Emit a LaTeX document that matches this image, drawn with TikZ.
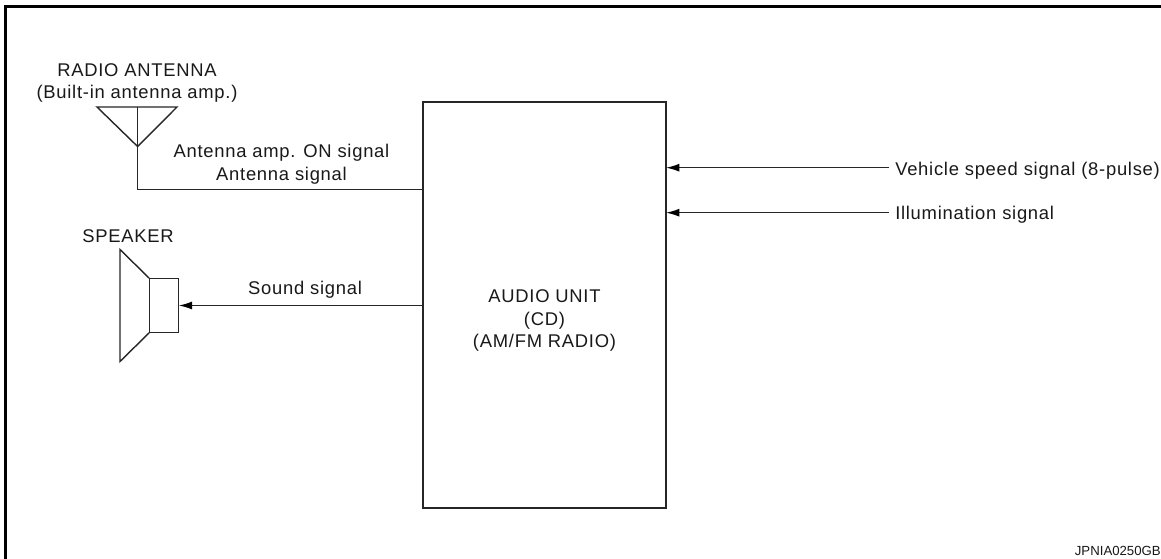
\documentclass[tikz,border=0pt]{standalone}
\usepackage{fontspec}
\setmainfont{Liberation Sans}[LetterSpace=4]
\newfontfamily\plainfont{Liberation Sans}
\usetikzlibrary{arrows.meta,calc}
\tikzset{
  ln/.style={draw=black!85,line width=1.05pt,outer sep=0pt},
  sig/.style={ln,-{Latex[length=10pt,width=6pt,black]}},
  lbl/.style={inner sep=0pt,font=\fontsize{13.8pt}{17pt}\selectfont,text=black!90,align=center},
  lblr/.style={lbl,anchor=west,align=left},
}
\begin{document}
\begin{tikzpicture}[x=0.75pt,y=-0.75pt]
\useasboundingbox (0,0) rectangle (1161,559);
\fill[white] (0,0) rectangle (1161,559);
% frame
\coordinate (fa) at (5.5,559);
\coordinate (fb) at (5.5,6.5);
\coordinate (fc) at (1161,6.5);
\draw[black,line width=2.4pt,line join=miter] (fa) -- (fb) -- (fc);
% audio unit
\node[ln,minimum width=243*0.75pt,minimum height=406*0.75pt,inner sep=0pt,anchor=north west] (unit) at (423,102) {};
\node[lbl] (unitlbl) at (544.5,320.5) {AUDIO UNIT\\(CD)\\(AM/FM RADIO)};
% antenna
\coordinate (aL) at (97,107);
\coordinate (aR) at (177,107);
\coordinate (aT) at (137.6,107);
\coordinate (aB) at (137.6,146.5);
\draw[ln,line join=miter] (aL) -- (aR) -- (aB) -- cycle;
\draw[ln] (aT) -- (aB);
\draw[ln] (aB) |- (unit.west |- 0,189.5);
\node[lbl] (antlbl) at (137,83) {RADIO ANTENNA\\(Built-in antenna amp.)};
\node[lbl] (siglbl) at (281.5,164) {Antenna amp. ON signal\\Antenna signal};
% speaker
\node[lbl] (spklbl) at (128,236) {SPEAKER};
\node[ln,minimum width=29.5*0.75pt,minimum height=54.5*0.75pt,inner sep=0pt] (spk) at (164,305.5) {};
\coordinate (cT) at (120,249.5);
\coordinate (cB) at (120,361.5);
\draw[ln,line join=miter] (spk.north west) -- (cT) -- (cB) -- (spk.south west);
\draw[sig] (unit.west |- spk.east) -- (spk.east);
\node[lbl] (soundlbl) at (305,290) {Sound signal};
% inputs
\node[lblr] (vs) at (895,171) {Vehicle speed signal (8-pulse)};
\node[lblr] (il) at (895,215) {Illumination signal};
\coordinate (vsend) at (889,167.7);
\coordinate (ilend) at (889,212.7);
\draw[sig] (vsend) -- (unit.east |- vsend);
\draw[sig] (ilend) -- (unit.east |- ilend);
% code
\node[inner sep=0pt,anchor=east,font=\plainfont\fontsize{9.9pt}{10pt}\selectfont,text=black!90] (code) at (1161,550.5) {JPNIA0250GB};
\end{tikzpicture}
\end{document}
